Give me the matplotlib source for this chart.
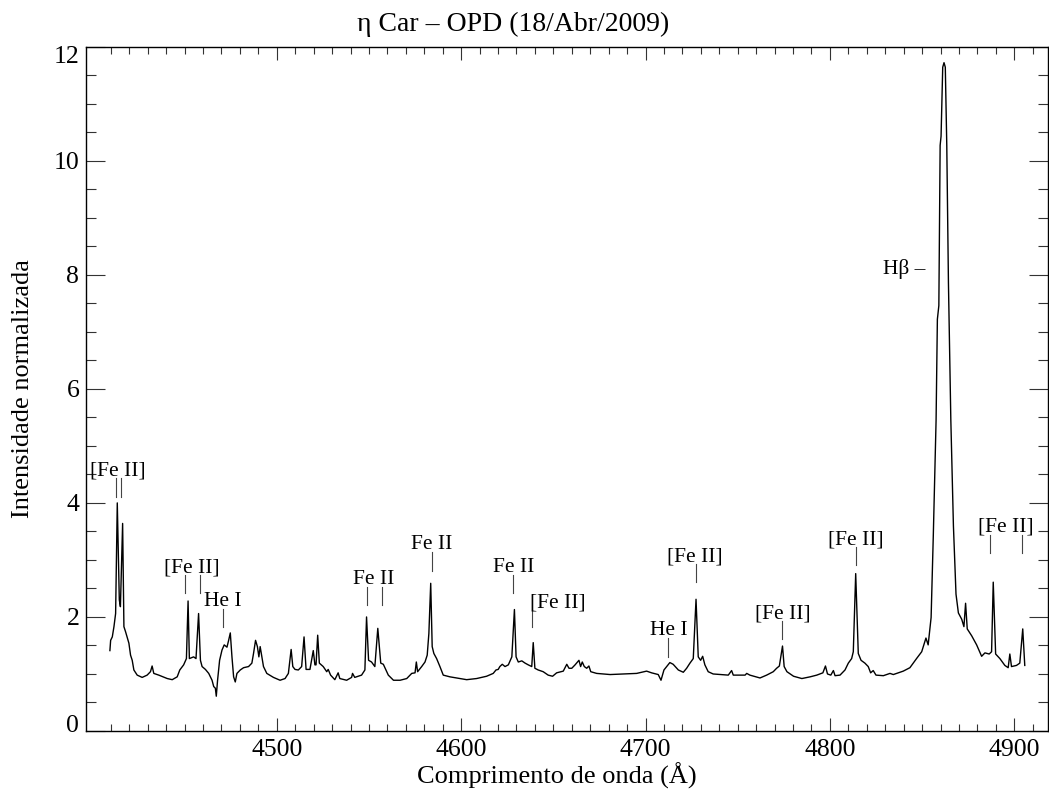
import matplotlib
matplotlib.use("Agg")
import matplotlib.pyplot as plt
import matplotlib.transforms as mtransforms

# ---------------- data ----------------
wavelength = [
    4409.5, 4409.9, 4410.8, 4411.7, 4412.6, 4413.5, 4414.6, 4415.2, 4416.4, 4417.1,
    4418.0, 4419.8, 4420.7, 4421.6, 4422.5, 4424.3, 4427.0, 4429.7, 4431.5, 4432.4,
    4433.3, 4436.0, 4440.6, 4443.3, 4446.0, 4447.4, 4449.5, 4451.0, 4451.9, 4452.6,
    4454.9, 4456.2, 4457.6, 4458.6, 4459.5, 4461.3, 4463.1, 4464.9, 4465.8, 4466.7,
    4467.2, 4467.9, 4469.0, 4470.3, 4471.5, 4473.0, 4473.9, 4474.8, 4475.7, 4476.6,
    4477.5, 4478.4, 4480.2, 4482.0, 4484.7, 4486.5, 4487.4, 4488.5, 4489.5, 4490.3,
    4491.0, 4491.9, 4492.8, 4494.6, 4498.2, 4501.8, 4504.5, 4506.3, 4507.8, 4508.7,
    4509.9, 4511.7, 4513.5, 4514.8, 4515.9, 4518.0, 4519.8, 4520.7, 4521.3, 4522.2,
    4523.1, 4525.2, 4527.1, 4527.9, 4529.2, 4531.5, 4533.3, 4534.2, 4537.9, 4540.6,
    4541.1, 4542.3, 4546.0, 4547.8, 4548.7, 4549.8, 4551.4, 4553.2, 4554.8, 4556.4,
    4557.8, 4558.8, 4560.5, 4563.3, 4566.9, 4570.5, 4573.2, 4575.0, 4575.7, 4576.4,
    4578.6, 4580.4, 4581.6, 4582.5, 4583.5, 4584.3, 4585.2, 4586.7, 4588.5, 4590.3,
    4593.9, 4599.4, 4603.0, 4608.4, 4613.8, 4617.4, 4618.9, 4620.1, 4621.0, 4622.3,
    4623.8, 4625.6, 4627.5, 4628.9, 4629.8, 4631.0, 4632.9, 4634.7, 4636.4, 4638.3,
    4639.1, 4640.0, 4641.8, 4644.5, 4647.2, 4649.6, 4651.8, 4655.4, 4657.3, 4658.5,
    4660.0, 4661.8, 4663.9, 4664.8, 4665.7, 4666.8, 4668.1, 4669.3, 4670.3, 4673.5,
    4680.8, 4688.0, 4695.2, 4700.6, 4703.3, 4706.9, 4708.4, 4710.0, 4713.2, 4715.0,
    4717.8, 4720.5, 4722.3, 4724.1, 4725.9, 4727.4, 4728.6, 4729.9, 4731.0, 4732.2,
    4734.0, 4736.7, 4744.9, 4746.7, 4747.6, 4754.0, 4754.9, 4756.6, 4762.1, 4765.7,
    4769.3, 4771.1, 4772.6, 4774.3, 4775.2, 4776.7, 4780.3, 4784.8, 4789.3, 4792.9,
    4796.2, 4797.6, 4798.7, 4800.5, 4801.9, 4802.8, 4805.5, 4808.2, 4810.0, 4811.8,
    4812.7, 4814.0, 4815.4, 4816.9, 4819.0, 4820.8, 4822.1, 4823.5, 4825.0, 4829.0,
    4832.6, 4834.4, 4839.8, 4843.4, 4847.0, 4849.8, 4852.1, 4853.3, 4854.9, 4856.1,
    4857.6, 4858.3, 4859.1, 4859.8, 4860.3, 4861.2, 4861.9, 4862.6, 4863.4, 4864.3,
    4865.6, 4867.0, 4868.4, 4869.7, 4871.5, 4872.7, 4873.6, 4874.5, 4876.9, 4879.6,
    4882.3, 4884.1, 4886.4, 4887.7, 4888.6, 4889.9, 4892.2, 4894.9, 4896.7, 4897.6,
    4898.5, 4901.2, 4903.0, 4904.6, 4905.7,
]
flux = [
    1.41, 1.59, 1.65, 1.83, 2.06, 4.00, 2.30, 2.18, 3.64, 1.83,
    1.74, 1.54, 1.33, 1.24, 1.07, 0.98, 0.94, 0.98, 1.04, 1.14,
    1.01, 0.98, 0.92, 0.90, 0.95, 1.07, 1.16, 1.27, 2.28, 1.27,
    1.30, 1.27, 2.06, 1.24, 1.13, 1.08, 1.01, 0.89, 0.78, 0.75,
    0.61, 0.89, 1.24, 1.42, 1.51, 1.47, 1.59, 1.72, 1.30, 0.95,
    0.86, 1.01, 1.07, 1.11, 1.13, 1.19, 1.36, 1.59, 1.48, 1.30,
    1.48, 1.30, 1.13, 1.01, 0.94, 0.89, 0.92, 1.01, 1.43, 1.13,
    1.08, 1.07, 1.13, 1.65, 1.08, 1.08, 1.41, 1.16, 1.16, 1.68,
    1.19, 1.13, 1.04, 1.08, 0.98, 0.90, 1.02, 0.92, 0.89, 0.94,
    1.01, 0.94, 0.98, 1.07, 2.00, 1.24, 1.21, 1.13, 1.80, 1.19,
    1.17, 1.10, 0.98, 0.89, 0.89, 0.92, 1.01, 1.02, 1.21, 1.04,
    1.13, 1.21, 1.33, 1.71, 2.59, 1.48, 1.36, 1.27, 1.13, 0.98,
    0.95, 0.92, 0.90, 0.92, 0.96, 1.01, 1.07, 1.08, 1.13, 1.17,
    1.13, 1.16, 1.30, 2.13, 1.30, 1.21, 1.23, 1.19, 1.16, 1.13,
    1.55, 1.10, 1.07, 1.04, 0.98, 0.96, 1.02, 1.05, 1.17, 1.10,
    1.10, 1.16, 1.24, 1.13, 1.21, 1.13, 1.10, 1.14, 1.04, 1.01,
    0.99, 1.00, 1.01, 1.05, 1.02, 0.99, 0.89, 1.07, 1.20, 1.17,
    1.07, 1.03, 1.10, 1.19, 1.27, 2.31, 1.30, 1.24, 1.31, 1.16,
    1.04, 1.00, 0.98, 1.06, 0.98, 0.98, 1.01, 0.98, 0.93, 0.98,
    1.04, 1.10, 1.14, 1.49, 1.13, 1.04, 0.96, 0.92, 0.95, 0.98,
    1.02, 1.14, 1.00, 0.98, 1.06, 0.97, 0.98, 1.07, 1.19, 1.27,
    1.39, 2.76, 1.36, 1.24, 1.19, 1.13, 1.02, 1.06, 0.98, 0.97,
    1.01, 0.99, 1.05, 1.11, 1.27, 1.39, 1.63, 1.51, 1.99, 3.44,
    5.45, 7.22, 7.46, 10.27, 10.43, 11.64, 11.72, 11.64, 10.27, 7.86,
    5.45, 3.60, 2.40, 2.07, 1.96, 1.83, 2.24, 1.79, 1.67, 1.51,
    1.31, 1.37, 1.35, 1.39, 2.61, 1.35, 1.27, 1.15, 1.11, 1.35,
    1.13, 1.15, 1.19, 1.79, 1.15,
]

# line identifications: label, marker wavelengths, marker bottom, marker top, text x
line_labels = ["[Fe II]", "[Fe II]", "He I", "Fe II", "Fe II", "Fe II", "[Fe II]",
               "He I", "[Fe II]", "[Fe II]", "[Fe II]", "[Fe II]"]
line_marks = [[4413.0, 4415.5], [4450.4, 4458.3], [4471.0], [4548.8, 4557.3], [4584.1],
              [4628.3], [4638.6], [4712.0], [4727.2], [4774.2], [4814.0], [4886.8, 4904.0]]
mark_bottom = [4.10, 2.42, 1.82, 2.21, 2.81, 2.42, 1.82, 1.30, 2.61, 1.61, 2.91, 3.12]
mark_top = [4.43, 2.73, 2.14, 2.52, 3.14, 2.73, 2.12, 1.63, 2.93, 1.93, 3.22, 3.44]
label_x = [4414.0, 4453.9, 4471.0, 4552.8, 4584.1, 4628.3, 4652.5, 4712.4, 4726.8,
           4774.2, 4814.0, 4895.3]
hbeta_label = "H\u03b2 \u2013"
hbeta_pos = (4851.6, 8.10)

title = "\u03b7 Car \u2013 OPD (18/Abr/2009)"
xlabel = "Comprimento de onda (\u00c5)"
ylabel = "Intensidade normalizada"
xticks_major = [4500, 4600, 4700, 4800, 4900]
xticks_minor = list(range(4410, 4920, 10))
yticks_major = [0, 2, 4, 6, 8, 10, 12]
yticks_minor = [v / 2 for v in range(0, 25)]

# ---------------- plot ----------------
plt.rcParams['font.family'] = ['Liberation Serif', 'DejaVu Serif']

W, H = 1049, 801
fig = plt.figure(figsize=(W / 100, H / 100), dpi=100)
L, R, T, B = 86.3, 1048.0, 46.7, 731.0
ax = fig.add_axes([L / W, 1 - B / H, (R - L) / W, (B - T) / H])

ax.plot(wavelength, flux, color='black', lw=1.0)
ax.set_xlim(4396.7, 4918.3)
ax.set_ylim(0, 12)

ax.set_xticks(xticks_major)
ax.set_xticks([t for t in xticks_minor if t not in xticks_major], minor=True)
ax.set_yticks(yticks_major)
ax.set_yticks([t for t in yticks_minor if t not in yticks_major], minor=True)
ax.set_xticklabels([str(v) for v in xticks_major])
ax.set_yticklabels([str(v) for v in yticks_major])

ax.tick_params(axis='both', which='both', direction='in', top=True, right=True,
               width=0.8, color='#333333')
ax.tick_params(axis='x', which='major', length=9.5, labelsize=18.5, pad=6)
ax.tick_params(axis='x', which='minor', length=5)
ax.tick_params(axis='y', which='major', length=14, labelsize=18.5, pad=5)
ax.tick_params(axis='y', which='minor', length=7)
for s in ax.spines.values():
    s.set_linewidth(1.0)

# IDL-like shifting of extreme y tick labels inwards
for lab, val in zip(ax.get_yticklabels(), yticks_major):
    if val == 12:
        lab.set_transform(lab.get_transform() +
                          mtransforms.ScaledTranslation(0, -8 / 100, fig.dpi_scale_trans))
    elif val == 0:
        lab.set_transform(lab.get_transform() +
                          mtransforms.ScaledTranslation(0, 8 / 100, fig.dpi_scale_trans))

ax.set_title(title, fontsize=20, x=(513 - L) / (R - L), y=1.0, pad=11)
ax.set_xlabel(xlabel, fontsize=19)
ax.xaxis.label.set_va('center')
ax.xaxis.set_label_coords(0.489, -0.066)
ax.set_ylabel(ylabel, fontsize=19)
ax.yaxis.label.set_va('center')
ax.yaxis.set_label_coords(-0.066, 0.5)

for lab, xs, y0, y1, tx in zip(line_labels, line_marks, mark_bottom, mark_top, label_x):
    for xm in xs:
        ax.plot([xm, xm], [y0, y1], color='#444444', lw=0.8)
    ax.text(tx, y1 + 0.05, lab, ha='center', va='baseline', fontsize=15.5)
ax.text(hbeta_pos[0], hbeta_pos[1], hbeta_label, ha='right', va='center', fontsize=15.5)

fig.savefig("out.png", dpi=100)
